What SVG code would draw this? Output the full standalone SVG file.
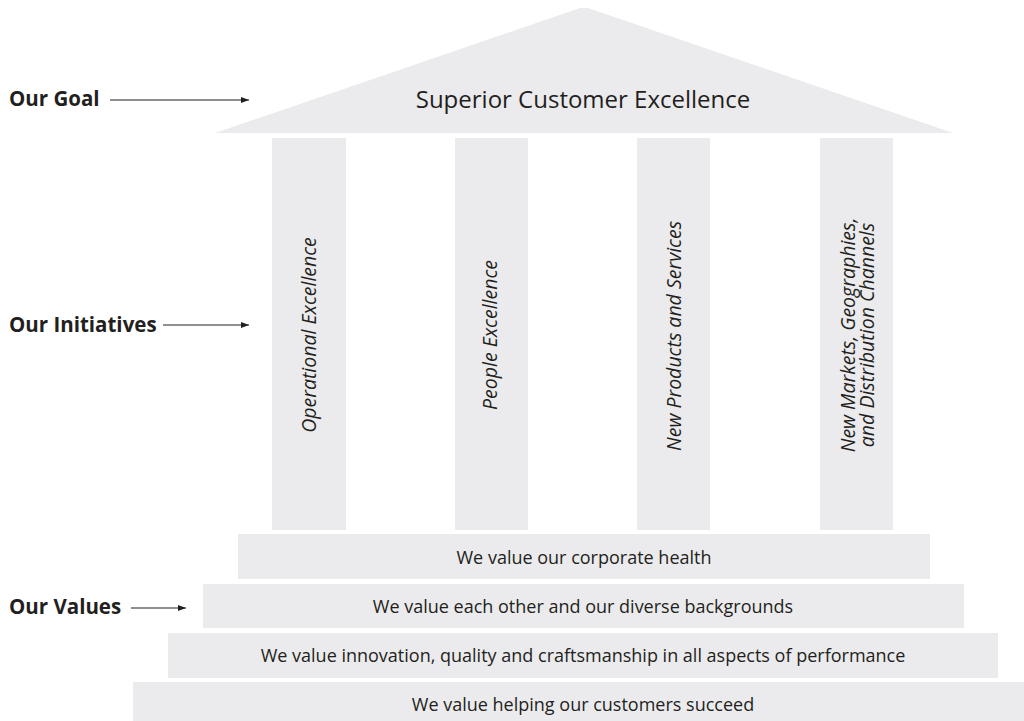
<svg xmlns="http://www.w3.org/2000/svg" width="1024" height="721" viewBox="0 0 1024 721">
<defs>
<style>
.blk{fill:#ebebed}
.lbl{font-family:"Open Sans","Noto Sans",sans-serif;font-weight:bold;font-size:20.5px;fill:#231f20}
.txt{font-family:"Open Sans","Noto Sans",sans-serif;font-size:18px;fill:#231f20;text-anchor:middle}
.it{font-style:italic;font-size:19.5px}
.ln{stroke:#231f20;stroke-width:1;fill:none}
</style>
<marker id="ah" viewBox="0 0 8 6" refX="8" refY="3" markerWidth="8" markerHeight="6" markerUnits="userSpaceOnUse" orient="auto">
<path d="M0,0 L8,3 L0,6 z" fill="#231f20"/>
</marker>
</defs>
<rect width="1024" height="721" fill="#ffffff"/>
<g id="roof">
<polygon class="blk" points="215,133 580,8 588,8 953,133"/>
<text class="txt" x="583" y="108" style="font-size:24px">Superior Customer Excellence</text>
</g>
<g id="pillar1">
<rect class="blk" x="272" y="138" width="74" height="392"/>
<text class="txt it" transform="translate(316,335) rotate(-90)">Operational Excellence</text>
</g>
<g id="pillar2">
<rect class="blk" x="455" y="138" width="73" height="392"/>
<text class="txt it" transform="translate(497,335) rotate(-90)">People Excellence</text>
</g>
<g id="pillar3">
<rect class="blk" x="637" y="138" width="73" height="392"/>
<text class="txt it" transform="translate(681,336) rotate(-90)">New Products and Services</text>
</g>
<g id="pillar4">
<rect class="blk" x="820" y="138" width="73" height="392"/>
<text class="txt it" transform="translate(855,335) rotate(-90)">New Markets, Geographies,</text>
<text class="txt it" transform="translate(874,335) rotate(-90)">and Distribution Channels</text>
</g>
<g id="step1">
<rect class="blk" x="238" y="534" width="692" height="45"/>
<text class="txt" x="584" y="564">We value our corporate health</text>
</g>
<g id="step2">
<rect class="blk" x="203" y="584" width="761" height="44"/>
<text class="txt" x="583" y="613">We value each other and our diverse backgrounds</text>
</g>
<g id="step3">
<rect class="blk" x="168" y="633" width="830" height="45"/>
<text class="txt" x="583" y="662">We value innovation, quality and craftsmanship in all aspects of performance</text>
</g>
<g id="step4">
<rect class="blk" x="133" y="682" width="891" height="39"/>
<text class="txt" x="583" y="711">We value helping our customers succeed</text>
</g>
<g id="label-goal"><text class="lbl" x="9" y="106">Our Goal</text></g>
<g id="label-initiatives"><text class="lbl" x="9" y="332">Our Initiatives</text></g>
<g id="label-values"><text class="lbl" x="9" y="614">Our Values</text></g>
<g id="connectors">
<line class="ln" x1="110" y1="100" x2="249" y2="100" marker-end="url(#ah)"/>
<line class="ln" x1="163" y1="325" x2="249" y2="325" marker-end="url(#ah)"/>
<line class="ln" x1="131" y1="608" x2="186" y2="608" marker-end="url(#ah)"/>
</g>
</svg>
